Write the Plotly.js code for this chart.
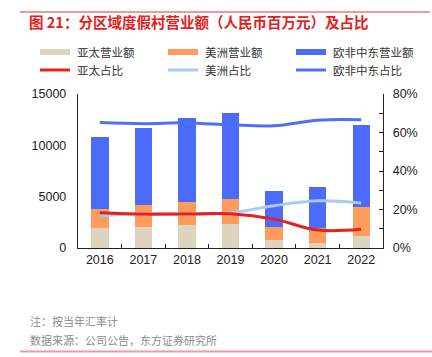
<!DOCTYPE html>
<html><head><meta charset="utf-8">
<script src="https://cdn.plot.ly/plotly-3.0.1.min.js"></script>
<style>html,body{margin:0;padding:0;background:#fff}#c{width:432px;height:357px}</style>
</head><body><div id="c"></div>
<script>
const years = ['2016','2017','2018','2019','2020','2021','2022'];
const asiaRev = [1970, 2040, 2230, 2330, 780, 520, 1165];
const americasRev = [1815, 2105, 2205, 2427, 1260, 1450, 2815];
const emeaRev = [7060, 7535, 8185, 8418, 3560, 3950, 8030];
const asiaShare = [0.183, 0.176, 0.177, 0.178, 0.150, 0.093, 0.097];
const americasShare = [0.167, 0.179, 0.174, 0.183, 0.220, 0.245, 0.234];
const emeaShare = [0.652, 0.646, 0.650, 0.640, 0.635, 0.664, 0.666];
const yLeftTicks = [0, 5000, 10000, 15000];
const yRightTicks = [0, 0.2, 0.4, 0.6, 0.8];
const legendNames = ['亚太营业额','美洲营业额','欧非中东营业额','亚太占比','美洲占比','欧非中东占比'];

const C = {beige:'#DDD4BF', orange:'#FF9C5B', blue:'#4A6BFB', red:'#E3211E', lblue:'#A8CBF6', eline:'#4F70F6'};
const legendColors = [C.beige, C.orange, C.blue, C.red, C.lblue, C.eline];
const legendWidths = [6, 6, 6, 3, 3, 3];
const barW = 0.4;
const traces = [
 {type:'bar', x:years, y:asiaRev, name:legendNames[0], marker:{color:C.beige}, width:barW},
 {type:'bar', x:years, y:americasRev, name:legendNames[1], marker:{color:C.orange}, width:barW},
 {type:'bar', x:years, y:emeaRev, name:legendNames[2], marker:{color:C.blue}, width:barW},
 {type:'scatter', mode:'lines', x:years, y:emeaShare, yaxis:'y2', name:legendNames[5], line:{color:C.eline, width:3, shape:'spline'}},
 {type:'scatter', mode:'lines', x:years, y:americasShare, yaxis:'y2', name:legendNames[4], line:{color:C.lblue, width:3, shape:'spline'}},
 {type:'scatter', mode:'lines', x:years, y:asiaShare, yaxis:'y2', name:legendNames[3], line:{color:C.red, width:3, shape:'spline'}}
];
const W = 432, H = 357, ML = 78, MR = 49, MT = 94, MB = 109;
const pw = W-ML-MR, ph = H-MT-MB;
const px = x => (x-ML)/pw;          // pixel x -> paper
const py = y => (H-MB-y)/ph;        // pixel y -> paper
const cjk = '"Noto Sans CJK SC", sans-serif';
const shapes = [
 {type:'line', xref:'paper', yref:'paper', x0:px(20), x1:px(430), y0:py(12), y1:py(12), line:{color:'#F29A98', width:2}},
 {type:'line', xref:'paper', yref:'paper', x0:px(20), x1:px(432), y0:py(351.5), y1:py(351.5), line:{color:'#F29A98', width:2}}
];
const annotations = [
 {text:'注：按当年汇率计', xref:'paper', yref:'paper', x:px(28), y:py(321), xanchor:'left', yanchor:'middle', showarrow:false,
   font:{size:11, color:'#8a8a8a', family:cjk}},
 {text:'数据来源：公司公告，东方证券研究所', xref:'paper', yref:'paper', x:px(28), y:py(340), xanchor:'left', yanchor:'middle', showarrow:false,
   font:{size:11, color:'#8a8a8a', family:cjk}}
];
const colX = [40, 168, 296], rowY = [52, 70];
legendNames.forEach((n, i) => {
  const cx = colX[i%3], ry = rowY[Math.floor(i/3)];
  shapes.push({type:'line', xref:'paper', yref:'paper', x0:px(cx), x1:px(cx+30), y0:py(ry), y1:py(ry),
    line:{color:legendColors[i], width:legendWidths[i]}});
  annotations.push({text:n, xref:'paper', yref:'paper', x:px(cx+35), y:py(ry), xanchor:'left', yanchor:'middle', showarrow:false,
    font:{size:11.5, color:'#333', family:cjk}});
});
const layout = {
 width:W, height:H, barmode:'stack', showlegend:false,
 margin:{l:ML, r:MR, t:MT, b:MB},
 paper_bgcolor:'#fff', plot_bgcolor:'#fff',
 font:{family:'"Liberation Sans", Arial, sans-serif', size:12, color:'#222'},
 title:{text:'图 21：分区域度假村营业额（人民币百万元）及占比', x:29/W, xanchor:'left', xref:'container', y:1-23/H, yanchor:'middle', yref:'container',
   font:{size:14.5, color:'#E3211E', family:cjk, weight:'bold'}},
 xaxis:{type:'category', tickson:'boundaries', ticks:'inside', ticklen:4, tickcolor:'#222', showline:true, linecolor:'#222', linewidth:1.2,
   showgrid:false, zeroline:false, tickfont:{size:12.5}, range:[-0.5,6.5], automargin:false},
 yaxis:{range:[0,15000], tickvals:yLeftTicks, tickformat:'d', ticks:'', showline:true, linecolor:'#222', linewidth:1.2, showgrid:false, zeroline:false,
   tickfont:{size:12.5}, ticklabelstandoff:8, automargin:false},
 yaxis2:{overlaying:'y', side:'right', range:[0,0.8], tickvals:yRightTicks, tickformat:'.0%', ticks:'inside', ticklen:4, tickcolor:'#222',
   minor:{tickvals:[0.1,0.3,0.5,0.7], ticks:'inside', ticklen:4, tickcolor:'#222'},
   showline:true, linecolor:'#222', linewidth:1.2, showgrid:false, zeroline:false, tickfont:{size:12.5}, ticklabelstandoff:6, automargin:false},
 shapes: shapes,
 annotations: annotations
};
Plotly.newPlot('c', traces, layout, {displayModeBar:false, staticPlot:true});
</script></body></html>
